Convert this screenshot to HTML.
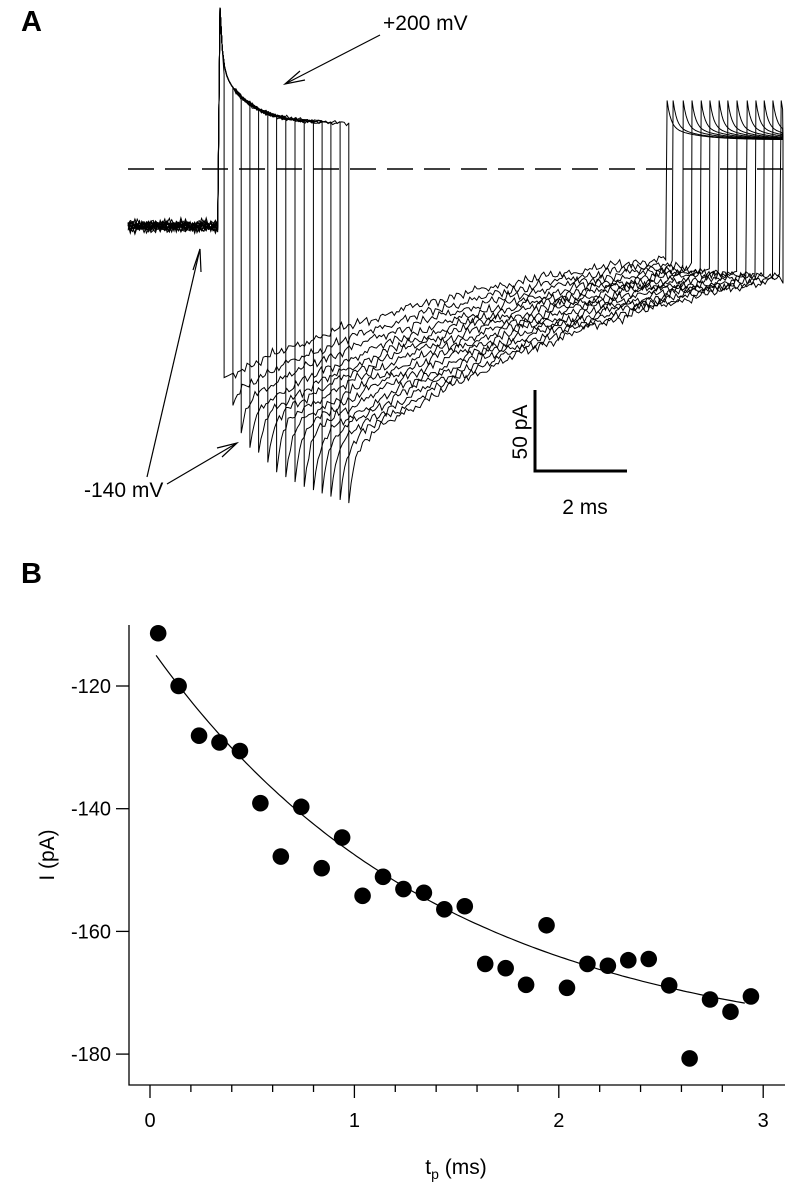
<!DOCTYPE html>
<html><head><meta charset="utf-8"><style>
html,body{margin:0;padding:0;background:#fff}
svg{display:block}
text{font-family:"Liberation Sans",Arial,sans-serif;fill:#000}
</style></head><body>
<svg id="fig" width="795" height="1199" viewBox="0 0 795 1199">
<text x="21" y="31" font-size="29" font-weight="bold">A</text>
<text x="21" y="583" font-size="29" font-weight="bold">B</text>
<g id="panelA"></g>
<line x1="128" y1="169" x2="783" y2="169" stroke="#000" stroke-width="1.6" stroke-dasharray="26,11"/>
<text x="383" y="30" font-size="21">+200 mV</text>
<g stroke="#000" stroke-width="1.2" fill="none">
<line x1="380" y1="35" x2="285" y2="84"/><polyline points="300,71 285,84 305,80"/></g>
<text x="84" y="497" font-size="21">-140 mV</text>
<g stroke="#000" stroke-width="1.2" fill="none">
<line x1="147" y1="477" x2="200" y2="249"/><polyline points="193,270 200,249 201,272"/></g>
<g stroke="#000" stroke-width="1.2" fill="none">
<line x1="167" y1="484" x2="237" y2="443"/><polyline points="217,448 237,443 222,457"/></g>
<g>
<polyline points="535,390 535,471 627,471" fill="none" stroke="#000" stroke-width="3"/>
<text transform="translate(527,432) rotate(-90)" font-size="21" text-anchor="middle">50 pA</text>
<text x="585" y="514" font-size="21" text-anchor="middle">2 ms</text>
</g>
<g id="panelB"></g>
</svg>
<script>
// ---------- Panel A data ----------
const pulseEndMs = [0.09,0.28,0.46,0.65,0.84,1.04,1.23,1.43,1.63,1.83,2.03,2.22,2.41,2.61,2.80];
const tailPeakPA = [-128,-145,-162,-171,-174,-180,-186,-189,-192,-195,-197,-199,-201,-203,-205];
const tailSlowPA = [-128,-136,-142,-148,-152,-154,-157,-160,-162,-164,-167,-168,-170,-171,-172];
const pulse2Ms = [9.72,9.85,10.07,10.26,10.46,10.65,10.85,11.04,11.24,11.46,11.65,11.83,12.02,12.20,12.30];
const holdPA = [-35];
const sweepEndMs = [12.24];

const NS='http://www.w3.org/2000/svg';
const xA = t => 220 + 46*t;
const yA = I => 169 - 1.63*I;
function wig(i,k){return 0.5*Math.sin(i*1.713+k*3.1)+0.35*Math.sin(i*0.631+k*1.37)+0.35*Math.sin(i*2.917+k*0.71)+0.25*Math.sin(i*4.41+k*2.3)+0.3*Math.sin(i*0.217+k*5.1);}
const gA=document.getElementById('panelA');
for(let k=0;k<pulseEndMs.length;k++){
  const pts=[]; let i=0; const dt=0.05;
  for(let t=-2;t<0;t+=dt,i++) pts.push([xA(t),yA(holdPA[0]+3.2*wig(i,k))]);
  const tk=pulseEndMs[k], t2=pulse2Ms[k], te=sweepEndMs[0];
  for(let t=0;t<tk;t+=dt,i++){const I=28+36*Math.exp(-t/0.05)+35*Math.exp(-t/0.6)+(t>0.3?1.2*wig(i,k):0);pts.push([xA(t),yA(I)]);}
  pts.push([xA(tk),yA(28+35*Math.exp(-tk/0.6))]);
  const Iinf=-30;
  for(let t=tk;t<Math.min(t2,te);t+=dt,i++){const s=t-tk;
    const I=Iinf+(tailSlowPA[k]-Iinf)*Math.exp(-s/7)+(tailPeakPA[k]-tailSlowPA[k])*Math.exp(-s/0.12)+(s>0.1?2.6*wig(i,k):0);
    pts.push([xA(t),yA(I)]);}
  if(t2<te){
    for(let t=t2;t<te;t+=0.03,i++){const s=t-t2;const I=18+16*Math.exp(-s/0.08)+8*Math.exp(-s/0.6);pts.push([xA(t),yA(I)]);}
    pts.push([xA(te),yA(18)]);
  }
  pts.push([xA(te),yA(-70)]);
  const p=document.createElementNS(NS,'path');
  p.setAttribute('d','M'+pts.map(q=>q[0].toFixed(1)+','+q[1].toFixed(1)).join('L'));
  p.setAttribute('fill','none');p.setAttribute('stroke','#000');p.setAttribute('stroke-width','1');
  
  
  gA.appendChild(p);
}

// ---------- Panel B data ----------
const tpMs = [0.04,0.14,0.24,0.34,0.44,0.54,0.64,0.74,0.84,0.94,1.04,1.14,1.24,1.34,1.44,1.54,1.64,1.74,1.84,1.94,2.04,2.14,2.24,2.34,2.44,2.54,2.64,2.74,2.84,2.94];
const currentPA = [-111.4,-120.0,-128.1,-129.2,-130.6,-139.1,-147.8,-139.7,-149.7,-144.7,-154.2,-151.1,-153.1,-153.7,-156.4,-155.9,-165.3,-166.0,-168.7,-159.0,-169.2,-165.3,-165.6,-164.7,-164.5,-168.8,-180.7,-171.1,-173.1,-170.6];
const fitParams = [-180, 66.4, 1.4]; // I = A + B*exp(-t/tau)
const xTicks = [0,1,2,3];
const xTickLabels = ['0','1','2','3'];
const yTicks = [-120,-140,-160,-180];
const yTickLabels = ['-120','-140','-160','-180'];

const xB = t => 150 + 204.4*t;
const yB = I => 686 - 6.135*(I + 120);
const gB=document.getElementById('panelB');
function el(tag,attrs){const e=document.createElementNS(NS,tag);for(const a in attrs)e.setAttribute(a,attrs[a]);gB.appendChild(e);return e;}
let ax=el('path',{d:'M129,625 L129,1085 L785,1085',fill:'none',stroke:'#000','stroke-width':'1.3'});


for(let v=0;v<=3.1;v+=0.2){const x=xB(v);const major=Math.abs(v-Math.round(v))<0.01;
  const tk=el('line',{x1:x,y1:1085,x2:x,y2:major?1098:1092,stroke:'#000','stroke-width':'1.3'});
  
  }
xTicks.forEach((v,j)=>{const t=el('text',{x:xB(v),y:1127,'font-size':'20','text-anchor':'middle'});t.textContent=xTickLabels[j];
  
  });
yTicks.forEach((v,j)=>{const y=yB(v);
  const tk=el('line',{x1:116,y1:y,x2:129,y2:y,stroke:'#000','stroke-width':'1.3'});
  
  
  const t=el('text',{x:111,y:y+7,'font-size':'20','text-anchor':'end'});t.textContent=yTickLabels[j];
  
  });
let d='';for(let t=0.03;t<=2.93;t+=0.02){const I=fitParams[0]+fitParams[1]*Math.exp(-t/fitParams[2]);d+=(d?'L':'M')+xB(t).toFixed(1)+','+yB(I).toFixed(1);}
let fit=el('path',{d:d,fill:'none',stroke:'#000','stroke-width':'1.2'});


tpMs.forEach((t,j)=>{const c=el('circle',{cx:xB(t),cy:yB(currentPA[j]),r:8.3,fill:'#000'});
  
  });
let yl=el('text',{transform:'translate(54,855) rotate(-90)','font-size':'21','text-anchor':'middle'});yl.textContent='I (pA)';


let xl=el('text',{x:456,y:1174,'font-size':'21','text-anchor':'middle'});
xl.innerHTML='t<tspan font-size="14" dy="5">p</tspan><tspan dy="-5"> (ms)</tspan>';


</script>
</body></html>
